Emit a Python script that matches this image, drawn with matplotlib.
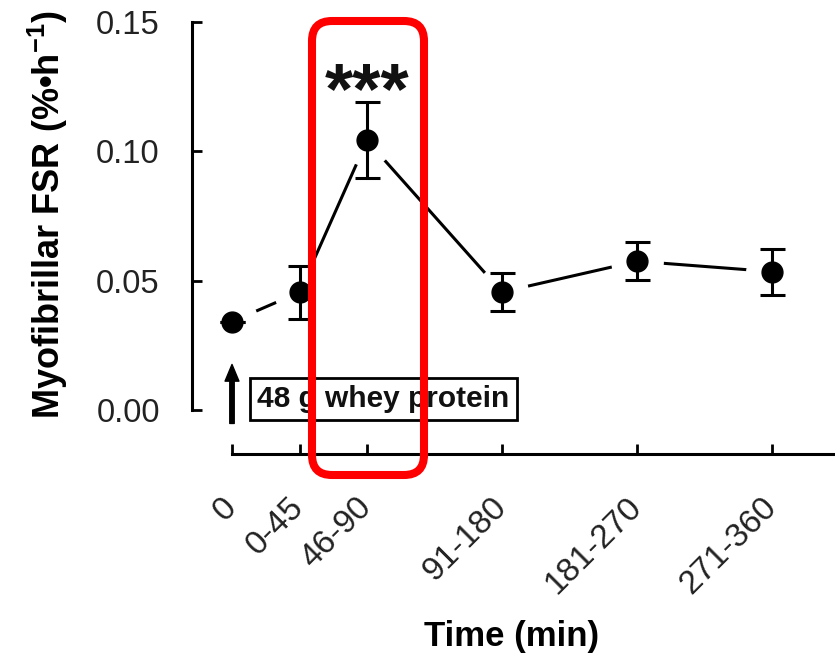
import matplotlib
matplotlib.use("Agg")
import matplotlib.pyplot as plt
from matplotlib.patches import FancyBboxPatch
from matplotlib.transforms import ScaledTranslation

plt.rcParams['font.family'] = ['Liberation Sans', 'DejaVu Sans']
plt.rcParams['mathtext.fontset'] = 'custom'
plt.rcParams['mathtext.rm'] = 'Liberation Sans:bold'
plt.rcParams['mathtext.default'] = 'rm'

# data
time_min = [0, 45, 90, 180, 270, 360]
time_labels = ['0', '0-45', '46-90', '91-180', '181-270', '271-360']
fsr = [0.0342, 0.0455, 0.1042, 0.0456, 0.0575, 0.0535]
fsr_err = [0.0, 0.0102, 0.0147, 0.0074, 0.0074, 0.0089]

fig = plt.figure(figsize=(8.35, 6.58), dpi=100)
ax = fig.add_axes([232 / 835, 248 / 658, 603 / 835, 388 / 658])
ax.set_xlim(0, 402)
ax.set_ylim(0, 0.15)

# connecting line, with white halos so it stops short of the markers
ax.plot(time_min, fsr, color='black', lw=2.2, zorder=2, clip_on=False)
ax.plot(time_min, fsr, 'o', ms=37, color='white', zorder=3, clip_on=False)
ax.errorbar(time_min, fsr, yerr=fsr_err, fmt='o', color='black', ms=15,
            capsize=9, capthick=2.2, elinewidth=2.2, zorder=4, clip_on=False)

ax.text(90, 0.1222, '***', ha='center', va='center', fontsize=52,
        fontweight='bold', color='#111111')

# stimulus marker
ax.annotate('', xy=(0, 0.0176), xytext=(0, -0.0052),
            arrowprops=dict(facecolor='black', edgecolor='black', width=3.2,
                            headwidth=10, headlength=12, shrink=0),
            annotation_clip=False)
ax.text(101, 0.0042, '48 g whey protein', ha='center', va='center',
        fontsize=21.5, fontweight='bold', color='#111111',
        bbox=dict(boxstyle='square,pad=0.24', fc='none', ec='black', lw=2))

for s in ['top', 'right']:
    ax.spines[s].set_visible(False)
ax.spines['left'].set_position(('outward', 29))
ax.spines['bottom'].set_position(('outward', 32))
for s in ['left', 'bottom']:
    ax.spines[s].set_linewidth(2.2)

ax.set_yticks([0, 0.05, 0.10, 0.15])
ax.set_yticklabels(['0.00', '0.05', '0.10', '0.15'])
ax.set_xticks(time_min)
ax.set_xticklabels(time_labels, rotation=45, ha='right', va='top',
                   rotation_mode='anchor')
ax.tick_params(axis='y', direction='in', length=7, width=2, pad=23,
               labelsize=23.5, labelcolor='#222222')
ax.tick_params(axis='x', direction='in', length=7, width=2, pad=27,
               labelsize=24, labelcolor='#222222')
shift = ScaledTranslation(-0.11, 0, fig.dpi_scale_trans)
for lbl in ax.get_xticklabels():
    lbl.set_transform(lbl.get_transform() + shift)

ax.set_ylabel('Myofibrillar FSR (%\u2022h$^{-1}$)', fontsize=26,
              fontweight='bold', va='center')
ax.yaxis.set_label_coords(-0.305, 0.503)
ax.set_xlabel('Time (min)', fontsize=25, fontweight='bold', va='center')
ax.xaxis.set_label_coords(0.464, -0.585)

# red highlight box around the 46-90 min sample
hl = FancyBboxPatch((3.12, 1.83), 1.12, 4.54,
                    boxstyle='round,pad=0,rounding_size=0.2',
                    transform=fig.dpi_scale_trans, fc='none', ec='#ff0000',
                    lw=5.8, zorder=10)
fig.patches.append(hl)

fig.savefig('out.png', dpi=100)
